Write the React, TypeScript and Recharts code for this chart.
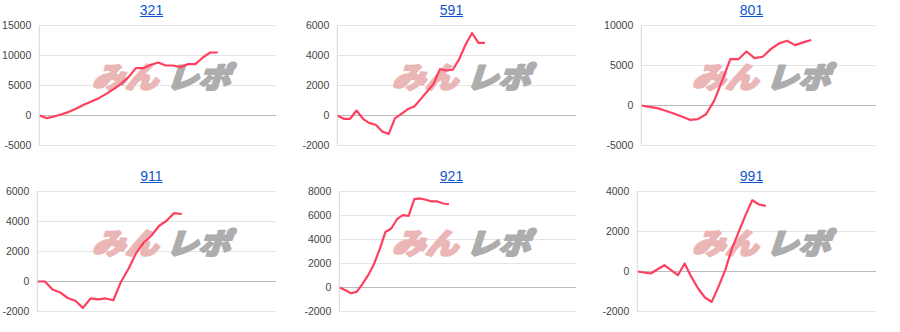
import React from 'react';
import { LineChart, Line, XAxis, YAxis, CartesianGrid, ReferenceLine } from 'recharts';

const titles = ['321', '591', '801', '911', '921', '991'];

const series321 = [0, -440, -170, 220, 610, 1170, 1780, 2330, 2890, 3610, 4390, 5280, 6390, 7890, 7890, 8440, 8830, 8330, 8330, 8060, 8560, 8560, 9670, 10500, 10500];
const series591 = [0, -220, -220, 330, -220, -510, -620, -1070, -1240, -170, 110, 430, 600, 1090, 1600, 2110, 3090, 3000, 3050, 3760, 4730, 5500, 4840, 4840];
const series801 = [0, -170, -330, -660, -1000, -1370, -1790, -1700, -1100, 580, 3150, 5790, 5790, 6750, 5920, 6090, 7050, 7750, 8090, 7550, 7890, 8180];
const series911 = [0, 0, -530, -730, -1100, -1280, -1760, -1130, -1190, -1130, -1250, -30, 850, 1900, 2600, 3050, 3700, 4050, 4560, 4500];
const series921 = [0, -200, -480, -360, 280, 1030, 1940, 3190, 4630, 4920, 5690, 6030, 5970, 7360, 7420, 7310, 7170, 7170, 7000, 6940];
const series991 = [0, -50, -100, 115, 315, 65, -185, 400, -270, -850, -1300, -1520, -770, 65, 1150, 1980, 2820, 3560, 3350, 3280];

const allSeries = [series321, series591, series801, series911, series921, series991];

// x range of each chart (in steps)
const xSpans = [31.85, 37.2, 29.0, 31.4, 41.0, 35.3];

const yTicks = [
  [-5000, 0, 5000, 10000, 15000],
  [-2000, 0, 2000, 4000, 6000],
  [-5000, 0, 5000, 10000],
  [-2000, 0, 2000, 4000, 6000],
  [-2000, 0, 2000, 4000, 6000, 8000],
  [-2000, 0, 2000, 4000],
];

const axisWidths = [39.3, 37.3, 41.3, 37.3, 39.3, 37.3];

const LINE_COLOR = '#ff3f5f';
const FONT = 'Arial, "Liberation Sans", sans-serif';
const JP = '"Noto Sans CJK JP", sans-serif';

const Watermark = () => (
  <g pointerEvents="none">
    <g transform="translate(92, 88) skewX(-18)">
      <text x={0} y={0} fontSize={29} fontWeight={900} fill="#ebb6b6" stroke="#ebb6b6" strokeWidth={2.2}
        strokeLinejoin="round" fontFamily={JP} textLength={66} lengthAdjust="spacingAndGlyphs">みん</text>
      <text x={74} y={0} fontSize={29} fontWeight={900} fill="#adadad" stroke="#adadad" strokeWidth={2.2}
        strokeLinejoin="round" fontFamily={JP} textLength={64} lengthAdjust="spacingAndGlyphs">レポ</text>
    </g>
  </g>
);

const MiniChart = ({ idx }: { idx: number }) => {
  const data = allSeries[idx].map((v, i) => ({ i, v }));
  const ticks = yTicks[idx];
  const col = idx % 3;
  const row = Math.floor(idx / 3);
  return (
    <div style={{ position: 'absolute', left: col * 300, top: row * 166, width: 300, height: 166 }}>
      <div
        style={{
          position: 'absolute', left: 0, top: 0, width: 303, textAlign: 'center',
          fontFamily: FONT, fontSize: 14, lineHeight: '20px', color: '#1155cc',
          textDecoration: 'underline', zIndex: 2,
        }}
      >
        {titles[idx]}
      </div>
      <LineChart width={300} height={166} data={data} margin={{ top: 25.5, right: 24, bottom: 20.5, left: 0 }}>
        <CartesianGrid vertical={false} stroke="#e4e4e4" strokeWidth={1} />
        <XAxis type="number" dataKey="i" domain={[0, xSpans[idx]]} hide />
        <YAxis
          type="number"
          domain={[ticks[0], ticks[ticks.length - 1]]}
          ticks={ticks}
          interval={0}
          width={axisWidths[idx]}
          tickLine={false}
          axisLine={{ stroke: '#d8d8d8' }}
          tick={{ fill: '#444', fontSize: 10.5, fontFamily: FONT }}
        />
        <Watermark />
        <ReferenceLine y={0} stroke="#bcbcbc" strokeWidth={1} />
        <Line
          type="linear"
          dataKey="v"
          stroke={LINE_COLOR}
          strokeWidth={2.2}
          dot={false}
          activeDot={false}
          strokeLinejoin="round"
          isAnimationActive={false}
        />
      </LineChart>
    </div>
  );
};

export default function App() {
  return (
    <div style={{ position: 'absolute', left: 0, top: 0, width: 900, height: 332, background: '#fff' }}>
      {titles.map((_, i) => (
        <MiniChart key={i} idx={i} />
      ))}
    </div>
  );
}
